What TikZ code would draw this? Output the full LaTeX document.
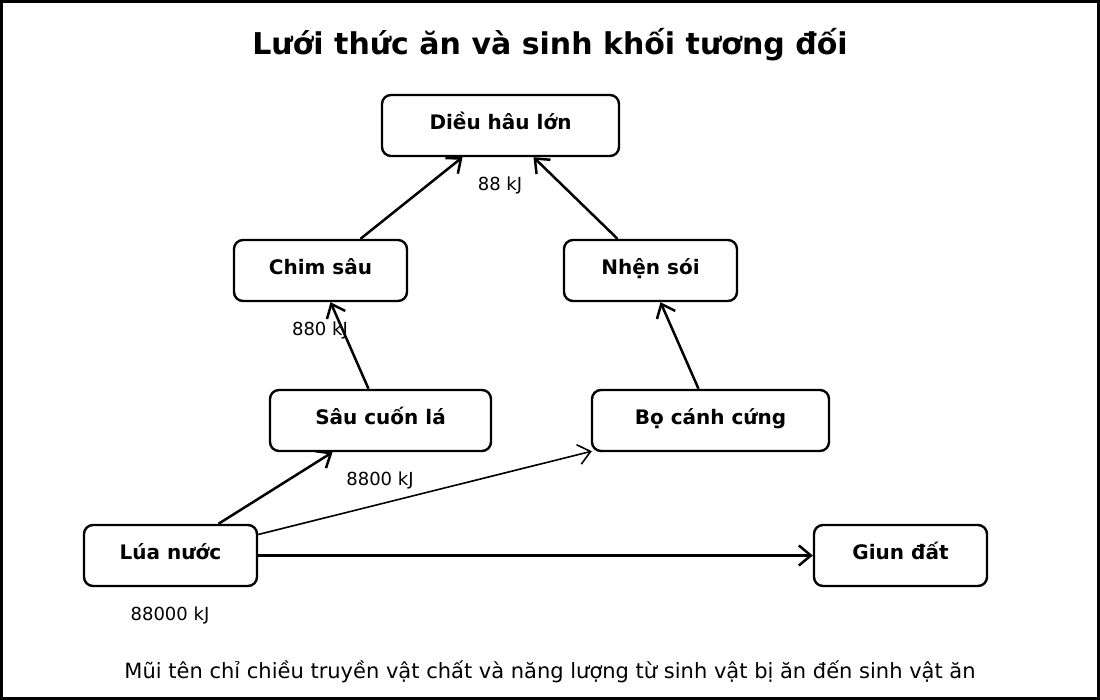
\documentclass[tikz,border=0pt]{standalone}
\usepackage{fontspec}
\setmainfont{DejaVu Sans}
\usetikzlibrary{arrows.meta}
\tikzset{
  box/.style={draw=black, line width=2.4pt, rounded corners=9pt, minimum height=61pt, inner sep=0pt,
    text height=14pt, text depth=6pt,
    font=\fontsize{20}{24}\selectfont\bfseries, text=black},
  lbl/.style={font=\fontsize{18}{21}\selectfont, inner sep=0pt},
  arr/.style={line width=2.5pt, -{Straight Barb[length=12pt,width=20pt,line width=2.5pt]}},
  thinarr/.style={line width=1.6pt, -{Straight Barb[length=12pt,width=20pt,line width=1.6pt]}}
}
\begin{document}
\begin{tikzpicture}[x=1pt,y=-1pt]
\useasboundingbox (0,0) rectangle (1100,700);
\fill[white] (0,0) rectangle (1100,700);
\draw[line width=3.2pt] (1.6,1.6) rectangle (1098.4,698.4);
\node[font=\fontsize{30}{35}\selectfont\bfseries] (title) at (550,45) {Lưới thức ăn và sinh khối tương đối};
\node[box, minimum width=237pt] (dieu) at (500.5,125.5) {Diều hâu lớn};
\node[box, minimum width=173pt] (chim) at (320.5,270.5) {Chim sâu};
\node[box, minimum width=173pt] (nhen) at (650.5,270.5) {Nhện sói};
\node[box, minimum width=221pt] (sau) at (380.5,420.5) {Sâu cuốn lá};
\node[box, minimum width=237pt] (bo) at (710.5,420.5) {Bọ cánh cứng};
\node[box, minimum width=173pt] (lua) at (170.5,555.5) {Lúa nước};
\node[box, minimum width=173pt] (giun) at (900.5,555.5) {Giun đất};
\node[lbl] (l88) at (500,185) {88 kJ};
\node[lbl] (l880) at (320,330) {880 kJ};
\node[lbl] (l8800) at (380,480) {8800 kJ};
\node[lbl] (l88000) at (170,615) {88000 kJ};
\node[font=\fontsize{21}{25}\selectfont] (note) at (550,672) {Mũi tên chỉ chiều truyền vật chất và năng lượng từ sinh vật bị ăn đến sinh vật ăn};
\draw[arr] ([xshift=40pt]chim.north) -- ([xshift=-38pt]dieu.south);
\draw[arr] ([xshift=-33pt]nhen.north) -- ([xshift=33pt]dieu.south);
\draw[arr] ([xshift=-12pt]sau.north) -- ([xshift=10pt]chim.south);
\draw[arr] ([xshift=-12pt]bo.north) -- ([xshift=10pt]nhen.south);
\draw[arr] ([xshift=48pt]lua.north) -- ([xshift=-48pt]sau.south);
\draw[thinarr] ([yshift=21pt]lua.east) -- ([xshift=1pt,yshift=1pt]bo.south west);
\draw[arr] (lua.east) -- (giun.west);
\end{tikzpicture}
\end{document}
